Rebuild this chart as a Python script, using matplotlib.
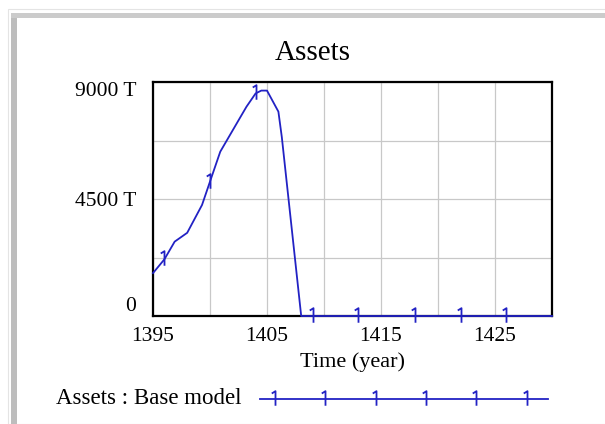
import numpy as np
import matplotlib
matplotlib.use("Agg")
import matplotlib.pyplot as plt
from matplotlib.lines import Line2D
from matplotlib.patches import Rectangle
from matplotlib.path import Path

# Assets : Base model
years = [1395, 1396, 1396.9, 1398, 1399.3, 1400, 1400.9, 1401.75, 1402.6,
         1403.2, 1404, 1404.5, 1405, 1406, 1406.3, 1408, 1430]
assets = [1650, 2180, 2860, 3200, 4270, 5170, 6320, 6960, 7600,
          8050, 8560, 8670, 8670, 7860, 6880, 0, 0]
marker_years = [1396, 1400, 1404, 1409, 1413, 1418, 1422, 1426]
marker_assets = [2180, 5170, 8560, 0, 0, 0, 0, 0]

x_ticks = [1395, 1405, 1415, 1425]
y_ticks = [0, 4500, 9000]
y_tick_labels = ["0", "4500 T", "9000 T"]

title = "Assets"
x_label = "Time (year)"
series_label = "Assets : Base model"

W, H = 605, 424
BLUE = "#2222c4"
plt.rcParams['font.family'] = ['Liberation Serif', 'DejaVu Serif']

# thin "1" marker like the Vensim series number
one = Path([(0, -0.75), (0, 1.0), (-0.45, 0.72)],
           [Path.MOVETO, Path.LINETO, Path.LINETO])
mk = dict(marker=one, markersize=12, markerfacecolor="none",
          markeredgecolor=BLUE, markeredgewidth=1.3)

fig = plt.figure(figsize=(W / 100, H / 100), dpi=100)

def fx(px):
    return px / W

def fy(py):
    return 1 - py / H

# grey window frame
fig.add_artist(Rectangle((fx(8), 0), fx(600), fy(9), transform=fig.transFigure,
                         fill=False, edgecolor="#e4e4e4", linewidth=0.8))
fig.add_artist(Rectangle((fx(11), 0), fx(6), fy(13), transform=fig.transFigure,
                         facecolor="#bdbdbd", edgecolor="none"))
fig.add_artist(Rectangle((fx(11), fy(18)), fx(594), fy(13) - fy(18),
                         transform=fig.transFigure, facecolor="#cbcbcb", edgecolor="none"))

ax = fig.add_axes([fx(153), fy(316), fx(552 - 153), fy(82) - fy(316)])
# series drawn over the frame, as in the original (zero part sits on the axis)
ax.plot(years, assets, color=BLUE, linewidth=1.3, clip_on=False, zorder=3)
ax.plot(marker_years, marker_assets, linestyle="none", clip_on=False, zorder=4, **mk)

ax.set_xlim(1395, 1430)
ax.set_ylim(0, 9000)
ax.set_xticks(x_ticks)
ax.set_xticks(np.arange(1400, 1431, 5), minor=True)
ax.set_yticks(y_ticks)
ax.set_yticks([2250, 6750], minor=True)
ax.set_yticklabels(y_tick_labels)
ax.grid(True, which="both", color="#c8c8c8", linewidth=0.9)
ax.set_axisbelow(True)
ax.tick_params(which="both", length=0)
ax.tick_params(axis="x", pad=8, labelsize=15.5)
ax.tick_params(axis="y", pad=12, labelsize=15.5)
for s in ax.spines.values():
    s.set_linewidth(1.6)
    s.set_color("black")

labels = ax.get_yticklabels()
labels[0].set_va("bottom")
labels[-1].set_va("top")

fig.text(fx(313), fy(53), title, ha="center", va="center", fontsize=21)
fig.text(fx(352), fy(362), x_label, ha="center", va="center", fontsize=16)

# legend row
fig.text(fx(56), fy(398), series_label, ha="left", va="center", fontsize=16.5)
fig.add_artist(Line2D([fx(260), fx(548)], [fy(399), fy(399)], transform=fig.transFigure,
                      color=BLUE, linewidth=1.3))
fig.add_artist(Line2D([fx(p) for p in (275, 325, 376, 426, 476, 527)], [fy(399)] * 6,
                      transform=fig.transFigure, linestyle="none", **mk))

fig.savefig("out.png", dpi=100)
